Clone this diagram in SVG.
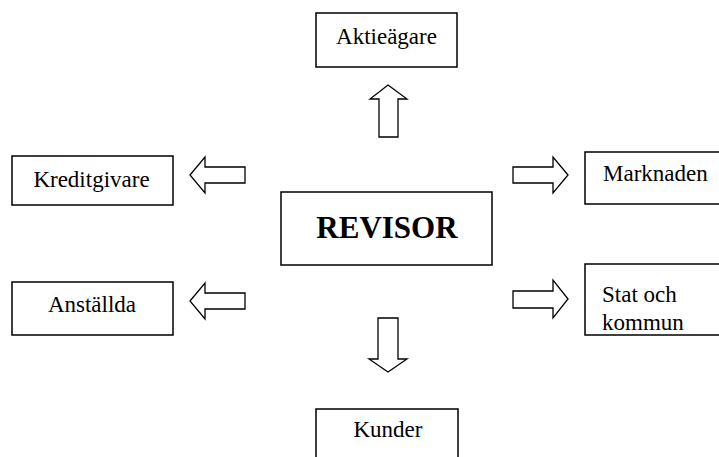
<svg xmlns="http://www.w3.org/2000/svg" width="719" height="457" viewBox="0 0 719 457">
<style>
.box{fill:#fff;stroke:#000;stroke-width:1.5}
.arr{fill:#fff;stroke:#000;stroke-width:1.3;stroke-linejoin:miter}
.t{font-family:"Liberation Serif","Times New Roman",serif;font-size:23px;fill:#000}
.c{text-anchor:middle}
.b{font-weight:bold;font-size:31px}
</style>
<rect width="719" height="457" fill="#fff"/>
<g id="connectors">
<polygon class="arr" points="388,85 407,99 398,99 398,137 379,137 379,99 370,99"/>
<polygon class="arr" points="190,175 205,157 205,167 245,167 245,183 205,183 205,193"/>
<polygon class="arr" points="190,301 205,283 205,293 245,293 245,309 205,309 205,319"/>
<polygon class="arr" points="568,175 553,157 553,167 513,167 513,183 553,183 553,193"/>
<polygon class="arr" points="568,299 553,280 553,291 513,291 513,308 553,308 553,318"/>
<polygon class="arr" points="388,372 407,359 398,359 398,318 378,318 378,359 369,359"/>
</g>
<g id="aktieagare"><rect class="box" x="316" y="13" width="141" height="54"/><text class="t c" x="386.5" y="44">Aktieägare</text></g>
<g id="kreditgivare"><rect class="box" x="12" y="156" width="161" height="49"/><text class="t c" x="91.5" y="187">Kreditgivare</text></g>
<g id="anstallda"><rect class="box" x="12" y="282" width="161" height="53"/><text class="t c" x="92" y="312">Anställda</text></g>
<g id="revisor"><rect class="box" x="281" y="192" width="211" height="73"/><text class="t c b" x="387" y="238">REVISOR</text></g>
<g id="marknaden"><rect class="box" x="585" y="152" width="145" height="52"/><text class="t" x="603" y="181">Marknaden</text></g>
<g id="stat"><rect class="box" x="585" y="264" width="145" height="71"/><text class="t" x="602" y="302">Stat och</text><text class="t" x="602" y="330">kommun</text></g>
<g id="kunder"><rect class="box" x="316" y="409" width="142" height="60"/><text class="t c" x="388" y="437">Kunder</text></g>
</svg>
